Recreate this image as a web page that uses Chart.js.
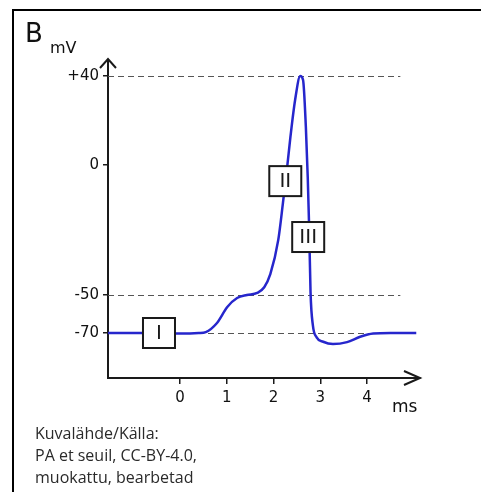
<!DOCTYPE html>
<html>
<head>
<meta charset="utf-8">
<script src="https://cdn.jsdelivr.net/npm/chart.js@4/dist/chart.umd.min.js"></script>
<style>
  html, body { margin: 0; padding: 0; background: #fff; }
  #wrap { width: 481px; height: 492px; }
</style>
</head>
<body>
<div id="wrap"><canvas id="chart"></canvas></div>
<script>
// membrane potential over time (schematic action potential)
const timeMs = [-1.54, -0.6, 0, 0.4, 0.55, 0.79, 1.01, 1.22, 1.43, 1.65, 1.8, 1.93, 2.1, 2.2, 2.29, 2.36, 2.46, 2.57,
                2.63, 2.69, 2.73, 2.76, 2.79, 2.84, 2.92, 3.06, 3.27, 3.57, 3.85, 4.13, 4.5, 5.05];
const voltage = [-70, -70, -70.3, -70, -69.5, -64.7, -56.3, -51.6, -50, -49.2, -47, -42, -28.8, -14.6, -0.8, 12.6, 29.2, 40,
                 38.2, 17, -4.6, -23.8, -49, -66, -72.3, -74.6, -75.8, -74.8, -72, -70.3, -70, -70];

const xTicks = [0, 1, 2, 3, 4];
const yTicks = [-70, -50, 0, 40];
const refLines = [40, -50, -70];

const phaseLabels = ['I', 'II', 'III'];
const phaseX = [-0.45, 2.25, 2.74];
const phaseY = [-70, -6.2, -27.7];

const creditLines = ['Kuvalähde/Källa:', 'PA et seuil, CC-BY-4.0,', 'muokattu, bearbetad'];

/*************Scale*************/

// the drawing is schematic: the mV axis is not evenly spaced
class BentScale extends Chart.LinearScale {
    toDecimal(v) {
        const a = this.options.anchors;
        if (v <= a[0][0]) return a[0][1];
        for (let i = 1; i < a.length; i++) {
            if (v <= a[i][0]) {
                const t = (v - a[i-1][0]) / (a[i][0] - a[i-1][0]);
                return a[i-1][1] + t * (a[i][1] - a[i-1][1]);
            }
        }
        return a[a.length-1][1];
    }
    getPixelForValue(v) {
        if (v === null) return NaN;
        return this.getPixelForDecimal(this.toDecimal(v));
    }
    getValueForPixel(p) {
        const d = this.getDecimalForPixel(p);
        const a = this.options.anchors;
        for (let i = 1; i < a.length; i++) {
            if (d <= a[i][1]) {
                const t = (d - a[i-1][1]) / (a[i][1] - a[i-1][1]);
                return a[i-1][0] + t * (a[i][0] - a[i-1][0]);
            }
        }
        return a[a.length-1][0];
    }
}
BentScale.id = 'bent';
BentScale.defaults = Chart.LinearScale.defaults;
Chart.register(BentScale);

/*************Decorations*************/

const INK = '#1a1a1a';

const decor = {
    id: 'decor',
    beforeDatasetsDraw(chart) {
        const ctx = chart.ctx, x = chart.scales.x, y = chart.scales.y;
        ctx.save();
        ctx.strokeStyle = '#555';
        ctx.lineWidth = 1;
        ctx.setLineDash([6, 4]);
        refLines.forEach(v => {
            const py = Math.round(y.getPixelForValue(v)) + 0.5;
            ctx.beginPath();
            ctx.moveTo(chart.chartArea.left, py);
            ctx.lineTo(x.getPixelForValue(4.71), py);
            ctx.stroke();
        });
        ctx.restore();
    },
    afterDatasetsDraw(chart) {
        const ctx = chart.ctx, x = chart.scales.x, y = chart.scales.y;
        ctx.save();
        ctx.font = '20px "DejaVu Sans"';
        ctx.textAlign = 'center';
        ctx.textBaseline = 'middle';
        phaseLabels.forEach((t, i) => {
            const cx = x.getPixelForValue(phaseX[i]);
            const cy = y.getPixelForValue(phaseY[i]);
            ctx.fillStyle = '#fff';
            ctx.fillRect(cx - 16, cy - 15, 32, 30);
            ctx.strokeStyle = INK;
            ctx.lineWidth = 2;
            ctx.strokeRect(cx - 16, cy - 15, 32, 30);
            ctx.fillStyle = INK;
            ctx.fillText(t, cx, cy + 1);
        });
        ctx.restore();
    },
    afterDraw(chart) {
        const ctx = chart.ctx, a = chart.chartArea;
        ctx.save();
        // frame
        ctx.strokeStyle = '#000';
        ctx.lineWidth = 2;
        ctx.beginPath();
        ctx.moveTo(13, 492);
        ctx.lineTo(13, 10);
        ctx.lineTo(481, 10);
        ctx.stroke();
        // arrow heads
        ctx.strokeStyle = INK;
        ctx.lineWidth = 2;
        ctx.beginPath();
        ctx.moveTo(a.left, a.top);
        ctx.lineTo(a.left, a.top - 1);
        ctx.moveTo(a.left - 8, a.top + 8);
        ctx.lineTo(a.left, a.top - 1);
        ctx.lineTo(a.left + 8, a.top + 8);
        ctx.moveTo(a.right - 16, a.bottom - 7);
        ctx.lineTo(a.right, a.bottom);
        ctx.lineTo(a.right - 16, a.bottom + 7);
        ctx.stroke();
        // titles
        ctx.fillStyle = '#111';
        ctx.textAlign = 'left';
        ctx.textBaseline = 'alphabetic';
        ctx.font = '26px "DejaVu Sans"';
        ctx.fillText('B', 25, 42);
        ctx.font = '16px "DejaVu Sans"';
        ctx.fillText('mV', 50, 53);
        ctx.font = '17px "DejaVu Sans"';
        ctx.fillText('ms', 392, 412);
        // source
        ctx.fillStyle = '#2a2a2a';
        ctx.font = '16px "Open Sans"';
        creditLines.forEach((t, i) => ctx.fillText(t, 35, 439 + i * 22));
        ctx.restore();
    }
};

/*************Chart*************/

const chart1 = document.getElementById('chart');
const points = timeMs.map((t, i) => ({x: t, y: voltage[i]}));
const tickFont = {family: '"DejaVu Sans"', size: 15};

new Chart(chart1, {
    type: 'line',
    data: {
        datasets: [{
            data: points,
            borderColor: '#2626cc',
            borderWidth: 2.5,
            pointRadius: 0,
            fill: false,
            cubicInterpolationMode: 'monotone'
        }]
    },
    options: {
        responsive: true,
        maintainAspectRatio: false,
        animation: false,
        events: [],
        layout: {padding: {top: 60, right: 61, left: 0, bottom: 0}},
        plugins: {legend: {display: false}, tooltip: {enabled: false}},
        scales: {
            x: {
                type: 'linear',
                min: -1.54,
                max: 5.13,
                afterBuildTicks: s => { s.ticks = xTicks.map(v => ({value: v})); },
                afterFit: s => { s.height = 114; },
                grid: {drawOnChartArea: false, drawTicks: true, tickLength: 6, color: INK, lineWidth: 1.5},
                border: {display: true, color: INK, width: 2},
                ticks: {color: '#111', font: tickFont, padding: 5, maxRotation: 0, autoSkip: false}
            },
            y: {
                type: 'bent',
                min: -93.7,
                max: 47.2,
                anchors: [[-93.7, 0], [-70, 0.1415], [-50, 0.261], [0, 0.6698], [40, 0.9497], [47.2, 1]],
                afterBuildTicks: s => { s.ticks = yTicks.map(v => ({value: v})); },
                afterFit: s => { s.width = 108; },
                grid: {drawOnChartArea: false, drawTicks: true, tickLength: 5, color: INK, lineWidth: 1.5},
                border: {display: true, color: INK, width: 2},
                ticks: {
                    color: '#111', font: tickFont, padding: 4,
                    callback: v => v > 0 ? '+' + v : String(v)
                }
            }
        }
    },
    plugins: [decor]
});
</script>
</body>
</html>
